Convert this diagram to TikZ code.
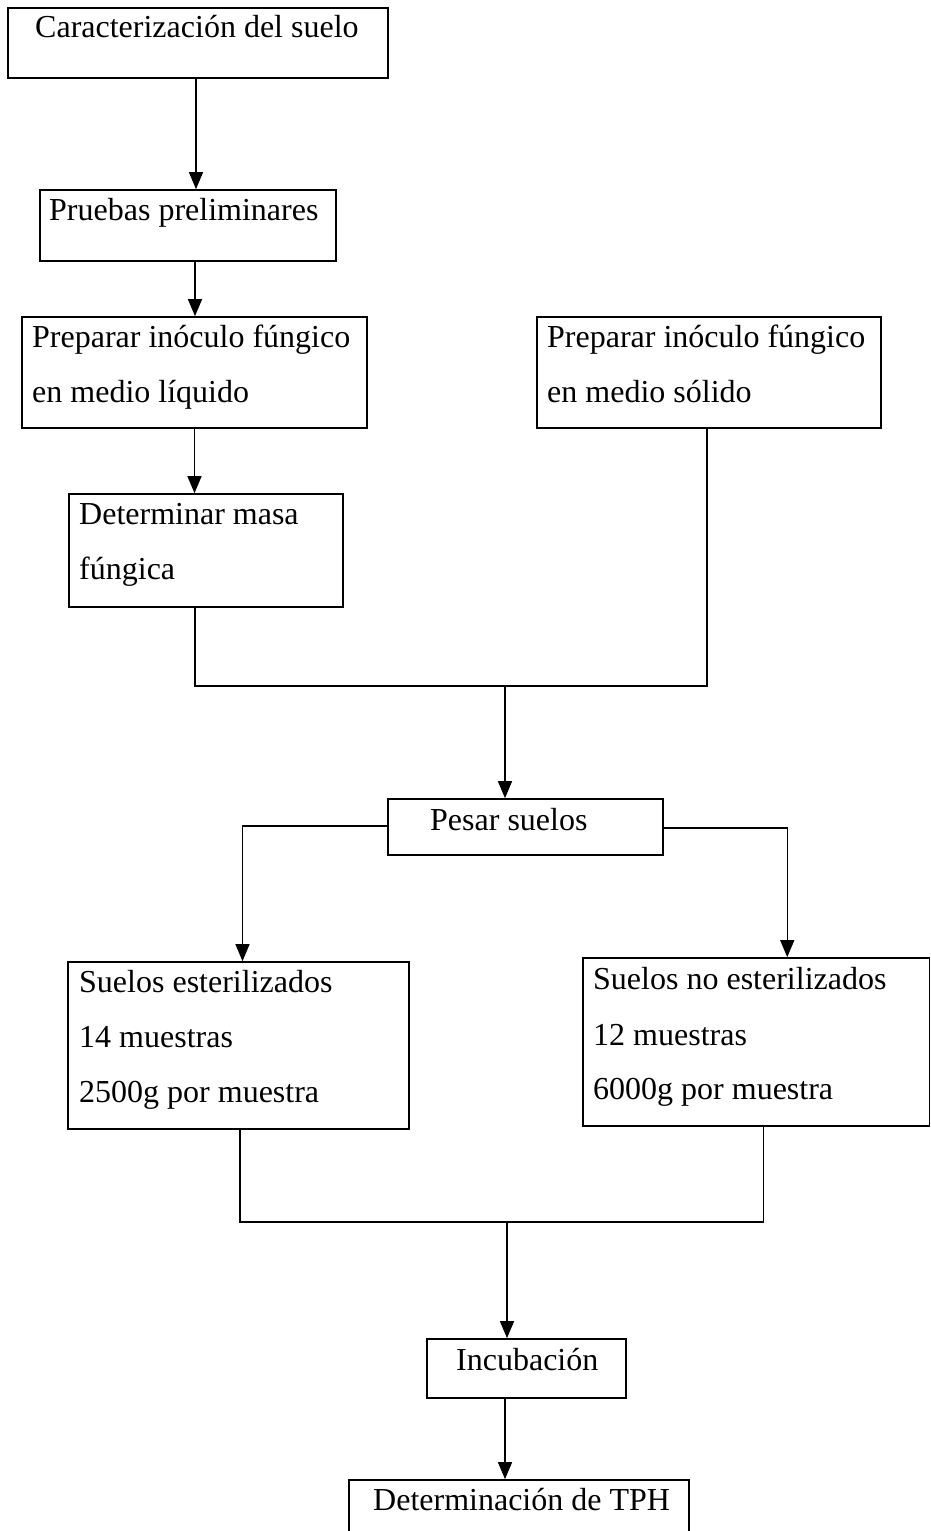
\documentclass[tikz,border=0pt]{standalone}
\usepackage{fontspec}
\setmainfont{Liberation Serif}
\usetikzlibrary{arrows.meta}
\begin{document}
\begin{tikzpicture}[x=1pt,y=-1pt,
  box/.style={draw,line width=1.7pt,inner sep=0pt},
  lbl/.style={anchor=base west,inner sep=0pt,font=\fontsize{32}{35}\selectfont},
  conn/.style={line width=1.4pt},
  arr/.style={line width=1.4pt,-{Triangle[width=14pt,length=17pt]}}]
\useasboundingbox (0,0) rectangle (931,1531);
\clip (0,0) rectangle (931,1531);
% boxes
\node[box] (A) at (198,43) [minimum width=380pt,minimum height=70pt] {};
\node[box] (B) at (188,225.5) [minimum width=296pt,minimum height=71pt] {};
\node[box] (C) at (194.5,372.5) [minimum width=345pt,minimum height=111pt] {};
\node[box] (D) at (709,372.5) [minimum width=344pt,minimum height=111pt] {};
\node[box] (E) at (206,550.5) [minimum width=274pt,minimum height=113pt] {};
\node[box] (F) at (525.5,827) [minimum width=275pt,minimum height=56pt] {};
\node[box] (G) at (238.5,1045.5) [minimum width=341pt,minimum height=167pt] {};
\node[box] (H) at (756.25,1042) [minimum width=346.5pt,minimum height=168pt] {};
\node[box] (I) at (526.5,1368.5) [minimum width=199pt,minimum height=59pt] {};
\node[box] (J) at (519,1520) [minimum width=340pt,minimum height=80pt] {};
% texts
\node[lbl] (tA) at (35,37) {Caracterización del suelo};
\node[lbl] (tB) at (49,220) {Pruebas preliminares};
\node[lbl] (tC1) at (32,347) {Preparar inóculo fúngico};
\node[lbl] (tC2) at (32,402) {en medio líquido};
\node[lbl] (tD1) at (547,347) {Preparar inóculo fúngico};
\node[lbl] (tD2) at (547,402) {en medio sólido};
\node[lbl] (tE1) at (79,524) {Determinar masa};
\node[lbl] (tE2) at (79,579) {fúngica};
\node[lbl] (tF) at (430,830) {Pesar suelos};
\node[lbl] (tG1) at (79,992) {Suelos esterilizados};
\node[lbl] (tG2) at (79,1047) {14 muestras};
\node[lbl] (tG3) at (79,1102) {2500g por muestra};
\node[lbl] (tH1) at (593,989) {Suelos no esterilizados};
\node[lbl] (tH2) at (593,1045) {12 muestras};
\node[lbl] (tH3) at (593,1099) {6000g por muestra};
\node[lbl] (tI) at (456,1370) {Incubación};
\node[lbl] (tJ) at (373,1510) {Determinación de TPH};
% junction coordinates
\coordinate (m1) at (505,686);
\coordinate (m2) at (507,1222);
% connectors
\draw[arr] ([xshift=-2pt]A.south) -- ([xshift=-2pt]A.south |- B.north);
\draw[arr] ([xshift=7pt]B.south) -- ([xshift=7pt]B.south |- C.north);
\draw[arr] (C.south) -- (C.south |- E.north);
\draw[conn] ([xshift=-11pt]E.south) |- (m1) -| ([xshift=-2pt]D.south);
\draw[arr] (m1) -- (m1 |- F.north);
\draw[arr] ([yshift=1pt]F.west) -| ([xshift=4pt]G.north);
\draw[arr] ([yshift=-1pt]F.east) -| ([xshift=31pt]H.north);
\draw[conn] ([xshift=1.5pt]G.south) |- (m2) -| ([xshift=7pt]H.south);
\draw[arr] (m2) -- (m2 |- I.north);
\draw[arr] ([xshift=-21.5pt]I.south) -- ([xshift=-21.5pt]I.south |- J.north);
\end{tikzpicture}
\end{document}
